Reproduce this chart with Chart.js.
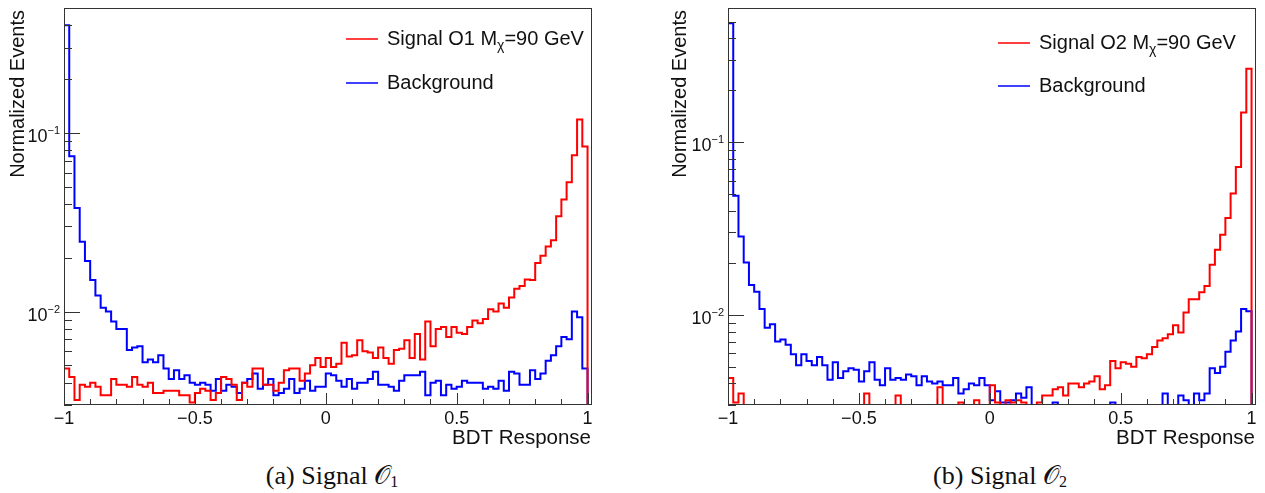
<!DOCTYPE html>
<html lang="en">

<head>
    <meta charset="UTF-8">
    <title>BDT Response</title>
    <script src="https://cdn.jsdelivr.net/npm/chart.js"></script>
    <style>
        body { margin: 0; width: 1265px; height: 493px; background: #fff; overflow: hidden; position: relative; }
        canvas { position: absolute; top: 0; }
        .caption { position: absolute; top: 461px; font-family: "Liberation Serif", serif; font-size: 26px; color: #111; transform: translateX(-50%); white-space: nowrap; }
        .caption sub { font-size: 16px; vertical-align: -3px; }
    </style>
</head>

<body>
    <canvas id="bdtO1" width="632" height="450" style="left:0"></canvas>
    <canvas id="bdtO2" width="601" height="450" style="left:664px"></canvas>
    <div class="caption" style="left:332px">(a) Signal 𝒪<sub>1</sub></div>
    <div class="caption" style="left:1000px">(b) Signal 𝒪<sub>2</sub></div>

    <script>
        // 100 bins of 0.02 from -1 to 1
        const BIN_LO = -1;
        const BIN_W = 0.02;

        const xTickLabels = [-1, -0.5, 0, 0.5, 1];
        const yTickLabels = [0.01, 0.1];

        const signalO1 = [
            0.0048, 0.0043, 0.0032, 0.0039, 0.0038, 0.0040, 0.0038, 0.0034, 0.0034, 0.0042,
            0.0039, 0.0039, 0.0038, 0.0043, 0.0039, 0.0038, 0.0040, 0.0035, 0.0035, 0.0036,
            0.0036, 0.0036, 0.0034, 0.0034, 0.0031, 0.0035, 0.0037, 0.0036, 0.0032, 0.0035,
            0.0043, 0.0042, 0.0039, 0.0032, 0.0040, 0.0038, 0.0048, 0.0048, 0.0039, 0.0039,
            0.0036, 0.0040, 0.0047, 0.0048, 0.0048, 0.0041, 0.0045, 0.0050, 0.0055, 0.0049,
            0.0055, 0.0049, 0.0051, 0.0067, 0.0056, 0.0057, 0.0069, 0.0060, 0.0059, 0.0055,
            0.0063, 0.0055, 0.0051, 0.0061, 0.0062, 0.0069, 0.0055, 0.0075, 0.0054, 0.0088,
            0.0064, 0.0080, 0.0082, 0.0072, 0.0082, 0.0076, 0.0075, 0.0082, 0.0089, 0.0086,
            0.0091, 0.0103, 0.0100, 0.0111, 0.0105, 0.0120, 0.0134, 0.0139, 0.0151, 0.0150,
            0.0187, 0.0205, 0.0231, 0.0251, 0.0342, 0.0424, 0.0530, 0.0750, 0.1190, 0.0840
        ];
        const backgroundO1 = [
            0.4000, 0.0740, 0.0380, 0.0246, 0.0192, 0.0150, 0.0123, 0.0105, 0.0100, 0.0088,
            0.0080, 0.0080, 0.0061, 0.0063, 0.0064, 0.0052, 0.0054, 0.0052, 0.0057, 0.0048,
            0.0042, 0.0047, 0.0042, 0.0044, 0.0040, 0.0039, 0.0040, 0.0039, 0.0036, 0.0042,
            0.0036, 0.0039, 0.0038, 0.0035, 0.0040, 0.0042, 0.0045, 0.0037, 0.0039, 0.0042,
            0.0034, 0.0035, 0.0037, 0.0042, 0.0035, 0.0037, 0.0041, 0.0036, 0.0038, 0.0038,
            0.0045, 0.0044, 0.0041, 0.0038, 0.0042, 0.0037, 0.0040, 0.0040, 0.0042, 0.0046,
            0.0039, 0.0039, 0.0038, 0.0036, 0.0041, 0.0044, 0.0044, 0.0044, 0.0046, 0.0034,
            0.0040, 0.0041, 0.0034, 0.0039, 0.0037, 0.0038, 0.0041, 0.0040, 0.0040, 0.0040,
            0.0037, 0.0038, 0.0037, 0.0041, 0.0036, 0.0046, 0.0045, 0.0039, 0.0039, 0.0047,
            0.0042, 0.0045, 0.0053, 0.0057, 0.0064, 0.0072, 0.0070, 0.0100, 0.0093, 0.0048
        ];
        const signalO2 = [
            0.0043, 0.0031, 0.0035, 0.0030, 0.0030, 0.0030, 0.0030, 0.0030, 0.0030, 0.0030,
            0.0030, 0.0030, 0.0030, 0.0030, 0.0030, 0.0030, 0.0030, 0.0030, 0.0030, 0.0030,
            0.0030, 0.0030, 0.0030, 0.0030, 0.0030, 0.0030, 0.0035, 0.0030, 0.0030, 0.0030,
            0.0030, 0.0030, 0.0034, 0.0030, 0.0030, 0.0030, 0.0030, 0.0030, 0.0030, 0.0030,
            0.0038, 0.0030, 0.0030, 0.0030, 0.0031, 0.0030, 0.0030, 0.0032, 0.0030, 0.0030,
            0.0039, 0.0031, 0.0030, 0.0032, 0.0031, 0.0032, 0.0031, 0.0030, 0.0030, 0.0031,
            0.0034, 0.0034, 0.0037, 0.0038, 0.0034, 0.0040, 0.0040, 0.0038, 0.0040, 0.0041,
            0.0044, 0.0037, 0.0039, 0.0054, 0.0049, 0.0053, 0.0052, 0.0050, 0.0057, 0.0056,
            0.0059, 0.0065, 0.0071, 0.0073, 0.0077, 0.0087, 0.0079, 0.0103, 0.0123, 0.0123,
            0.0135, 0.0147, 0.0195, 0.0238, 0.0291, 0.0364, 0.0504, 0.0719, 0.1490, 0.2670
        ];
        const backgroundO2 = [
            0.4900, 0.0490, 0.0284, 0.0201, 0.0149, 0.0136, 0.0108, 0.0084, 0.0088, 0.0070,
            0.0072, 0.0067, 0.0059, 0.0051, 0.0059, 0.0054, 0.0051, 0.0057, 0.0051, 0.0042,
            0.0053, 0.0043, 0.0047, 0.0049, 0.0048, 0.0041, 0.0047, 0.0053, 0.0042, 0.0039,
            0.0049, 0.0042, 0.0043, 0.0042, 0.0045, 0.0044, 0.0039, 0.0044, 0.0041, 0.0040,
            0.0041, 0.0039, 0.0039, 0.0043, 0.0035, 0.0037, 0.0040, 0.0039, 0.0043, 0.0039,
            0.0032, 0.0036, 0.0031, 0.0031, 0.0032, 0.0035, 0.0033, 0.0038, 0.0030, 0.0030,
            0.0030, 0.0030, 0.0031, 0.0030, 0.0030, 0.0030, 0.0030, 0.0030, 0.0030, 0.0030,
            0.0030, 0.0030, 0.0030, 0.0031, 0.0030, 0.0030, 0.0030, 0.0030, 0.0030, 0.0030,
            0.0030, 0.0030, 0.0030, 0.0035, 0.0030, 0.0030, 0.0034, 0.0032, 0.0030, 0.0035,
            0.0032, 0.0035, 0.0049, 0.0046, 0.0050, 0.0061, 0.0071, 0.0080, 0.0108, 0.0105
        ];

        const RED = 'rgb(255, 0, 0)';
        const BLUE = 'rgb(0, 0, 255)';
        const FONT = '"Liberation Sans", Arial, sans-serif';

        // histogram outline: rise from the floor at the first edge, one step per bin, drop at the last edge
        function histPoints(values, floor) {
            const pts = [{ x: BIN_LO, y: floor }];
            values.forEach((v, i) => pts.push({ x: BIN_LO + i * BIN_W, y: v }));
            pts.push({ x: BIN_LO + values.length * BIN_W, y: values[values.length - 1] });
            pts.push({ x: BIN_LO + values.length * BIN_W, y: floor });
            return pts;
        }

        function drawSup(ctx, base, sup, xRight, yBase) {
            ctx.font = '18px ' + FONT;
            const wb = ctx.measureText(base).width;
            ctx.font = '11px ' + FONT;
            const ws = ctx.measureText(sup).width;
            ctx.textAlign = 'left';
            ctx.font = '18px ' + FONT;
            ctx.fillText(base, xRight - wb - ws, yBase);
            ctx.font = '11px ' + FONT;
            ctx.fillText(sup, xRight - ws, yBase - 8);
        }

        // ROOT-like frame: inward ticks, axis labels, titles and legend
        const rootFrame = {
            id: 'rootFrame',
            afterDatasetsDraw(chart, args, opts) {
                const { ctx, chartArea: a, scales: { x, y } } = chart;
                ctx.save();
                ctx.strokeStyle = '#333';
                ctx.lineWidth = 1;
                ctx.strokeRect(a.left + 0.5, a.top + 0.5, a.right - a.left - 1, a.bottom - a.top - 1);

                ctx.beginPath();
                for (let i = -10; i <= 10; i++) {
                    const px = Math.round(x.getPixelForValue(i / 10)) + 0.5;
                    const len = i % 5 === 0 ? 12 : 6;
                    ctx.moveTo(px, a.bottom);
                    ctx.lineTo(px, a.bottom - len);
                }
                for (let d = -3; d <= -1; d++) {
                    for (let m = 1; m <= 9; m++) {
                        const v = m * Math.pow(10, d);
                        if (v < y.min || v > y.max) continue;
                        const py = Math.round(y.getPixelForValue(v)) + 0.5;
                        ctx.moveTo(a.left, py);
                        ctx.lineTo(a.left + (m === 1 ? 16 : 8), py);
                    }
                }
                ctx.stroke();

                ctx.fillStyle = '#111';
                ctx.textBaseline = 'alphabetic';
                ctx.font = '18px ' + FONT;
                ctx.textAlign = 'center';
                xTickLabels.forEach(v => {
                    const txt = v < 0 ? '\u2212' + Math.abs(v) : String(v);
                    ctx.fillText(txt, x.getPixelForValue(v), a.bottom + 19);
                });
                yTickLabels.forEach(v => {
                    const exp = Math.round(Math.log10(v));
                    drawSup(ctx, '10', '\u2212' + Math.abs(exp), a.left - 4, y.getPixelForValue(v) + 9);
                });

                ctx.font = '20.5px ' + FONT;
                ctx.textAlign = 'right';
                ctx.fillText('BDT Response', a.right - 1, a.bottom + 39);

                ctx.save();
                ctx.translate(opts.yTitleX, a.top + 2);
                ctx.rotate(-Math.PI / 2);
                ctx.font = '20px ' + FONT;
                ctx.textAlign = 'right';
                ctx.textBaseline = 'middle';
                ctx.fillText('Normalized Events', 0, 0);
                ctx.restore();

                // legend
                chart.data.datasets.forEach((ds, i) => {
                    const ly = opts.legendY[i];
                    ctx.strokeStyle = ds.borderColor;
                    ctx.lineWidth = 1.5;
                    ctx.beginPath();
                    ctx.moveTo(opts.legendX, ly);
                    ctx.lineTo(opts.legendX + 32, ly);
                    ctx.stroke();
                    ctx.fillStyle = '#111';
                    ctx.textAlign = 'left';
                    let tx = opts.legendX + 41;
                    const parts = ds.label.split(/_(\S)/);
                    parts.forEach((p, k) => {
                        const sub = k % 2 === 1;
                        ctx.font = (sub ? '14px ' : '20px ') + FONT;
                        ctx.fillText(p, tx, ly + 6 + (sub ? 5 : 0));
                        tx += ctx.measureText(p).width;
                    });
                });
                ctx.restore();
            }
        };

        function makeChart(id, signal, background, signalLabel, yMax, pad, frameOpts) {
            const yMin = 0.003;
            return new Chart(document.getElementById(id), {
                type: 'line',
                data: {
                    datasets: [
                        { label: signalLabel, data: histPoints(signal, yMin), borderColor: RED },
                        { label: 'Background', data: histPoints(background, yMin), borderColor: BLUE }
                    ]
                },
                options: {
                    responsive: false,
                    animation: false,
                    devicePixelRatio: 1,
                    layout: { padding: pad },
                    datasets: { line: { stepped: true, borderWidth: 2, pointRadius: 0, fill: false, parsing: false } },
                    plugins: { legend: { display: false }, tooltip: { enabled: false }, rootFrame: frameOpts },
                    scales: {
                        x: { type: 'linear', min: -1, max: 1.017, display: false },
                        y: { type: 'logarithmic', min: yMin, max: yMax, display: false }
                    }
                },
                plugins: [rootFrame]
            });
        }

        makeChart('bdtO1', signalO1, backgroundO1, 'Signal O1 M_\u03c7=90 GeV', 0.5,
            { left: 64, top: 8, right: 40, bottom: 45 },
            { yTitleX: 18, legendX: 346, legendY: [39, 83] });
        makeChart('bdtO2', signalO2, backgroundO2, 'Signal O2 M_\u03c7=90 GeV', 0.6,
            { left: 64, top: 8, right: 9, bottom: 45 },
            { yTitleX: 16, legendX: 334, legendY: [43, 86] });
    </script>
</body>

</html>
